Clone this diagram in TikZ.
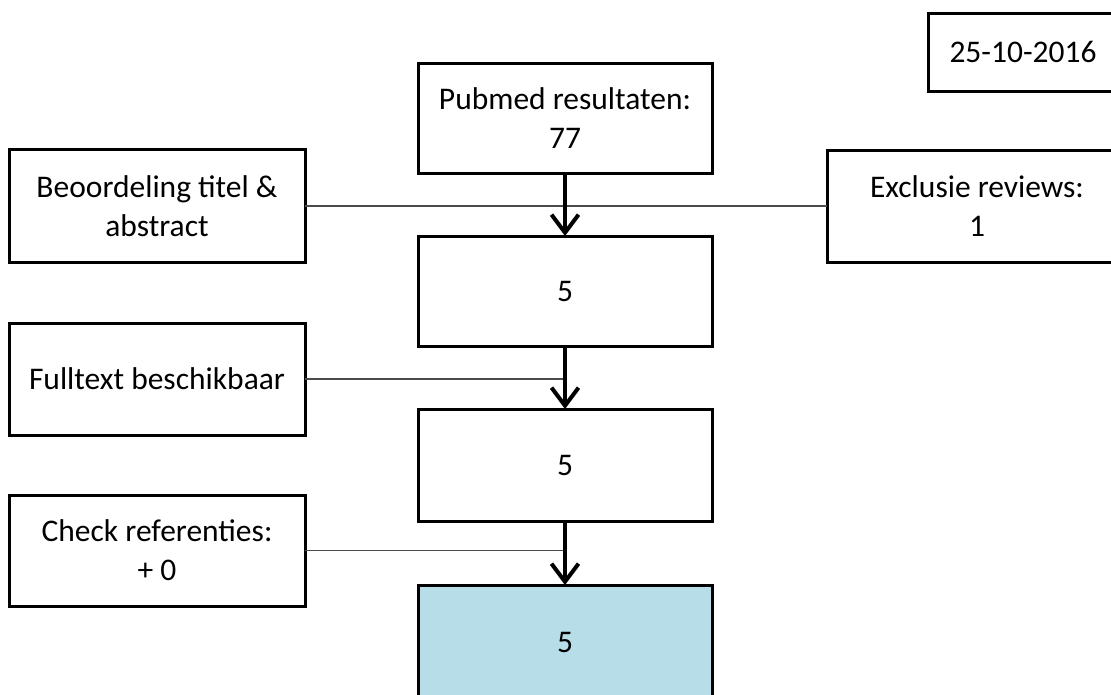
\documentclass[tikz,border=0pt]{standalone}
\usepackage{fontspec}
\setmainfont{Carlito}
\usetikzlibrary{arrows.meta}
\definecolor{resultblue}{RGB}{183,221,232}

\begin{document}
\begin{tikzpicture}[x=1pt, y=-1pt,
    box/.style={draw, line width=3pt, inner sep=0pt, outer sep=0pt,
        align=center, font=\fontsize{31.5}{39}\selectfont},
    midbox/.style={box, minimum width=294, minimum height=110},
    sidebox/.style={box, minimum width=296, minimum height=112},
    flow/.style={line width=4pt, -{Straight Barb[length=18pt, width=27pt]}},
    filter/.style={line width=1.3pt, black!70}]
    \useasboundingbox (0,0) rectangle (1111,694);
    \clip (0,0) rectangle (1111,694);

    % Date
    \node[box, minimum width=210, minimum height=78] (date) at (1033,52) {25-10-2016\hspace{20pt}};

    % Main column
    \node[midbox] (pubmed) at (565,118) {Pubmed resultaten:\\77};
    \node[midbox] (na) at (565,291) {5};
    \node[midbox, minimum height=112] (nb) at (565,465) {5};
    \node[midbox, minimum height=114, fill=resultblue] (nc) at (565,642) {5};

    % Side boxes
    \node[sidebox, minimum height=113] (titel) at (157,206) {Beoordeling titel \&\\abstract};
    \node[box, minimum width=300, minimum height=112] (reviews) at (977,206) {Exclusie reviews:\\1};
    \node[sidebox] (fulltext) at (157,379) {Fulltext beschikbaar};
    \node[sidebox, minimum height=111] (refs) at (157,550.5) {Check referenties:\\+ 0};

    % Filter lines
    \draw[filter] (titel.east) -- (reviews.west);
    \draw[filter] (fulltext.east) -- (fulltext.east -| nb.north);
    \draw[filter] (refs.east) -- (refs.east -| nc.north);

    % Arrows
    \draw[flow] (pubmed.south) -- (na.north);
    \draw[flow] (na.south) -- (nb.north);
    \draw[flow] (nb.south) -- (nc.north);
\end{tikzpicture}
\end{document}
